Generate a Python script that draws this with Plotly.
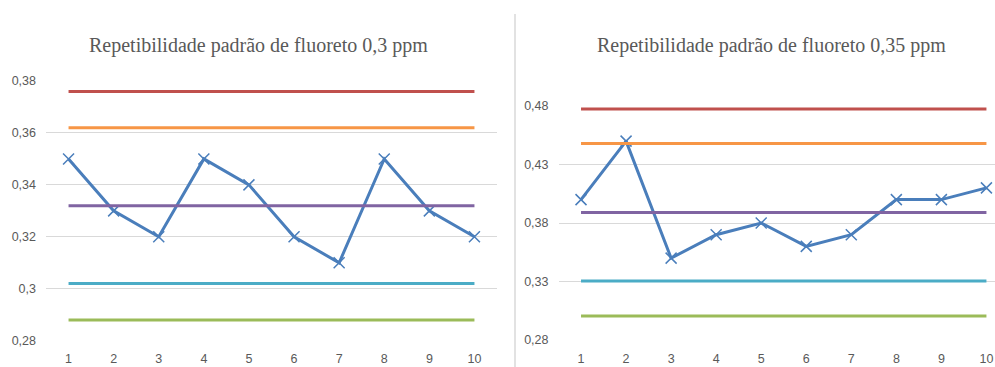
import plotly.graph_objects as go

# ---- data ----
samples = [1, 2, 3, 4, 5, 6, 7, 8, 9, 10]
tick_text = ["1", "2", "3", "4", "5", "6", "7", "8", "9", "10"]

title_left = "Repetibilidade padrão de fluoreto 0,3 ppm"
values_left = [0.35, 0.33, 0.32, 0.35, 0.34, 0.32, 0.31, 0.35, 0.33, 0.32]
lsc_left = 0.376   # limite superior de controle
lsa_left = 0.362   # limite superior de alerta
mean_left = 0.332
lia_left = 0.302   # limite inferior de alerta
lic_left = 0.288   # limite inferior de controle
yticks_left = [0.28, 0.30, 0.32, 0.34, 0.36, 0.38]
ytext_left = ["0,28", "0,3", "0,32", "0,34", "0,36", "0,38"]

title_right = "Repetibilidade padrão de fluoreto 0,35 ppm"
values_right = [0.40, 0.45, 0.35, 0.37, 0.38, 0.36, 0.37, 0.40, 0.40, 0.41]
lsc_right = 0.4775
lsa_right = 0.448
mean_right = 0.389
lia_right = 0.3305
lic_right = 0.3005
yticks_right = [0.28, 0.33, 0.38, 0.43, 0.48]
ytext_right = ["0,28", "0,33", "0,38", "0,43", "0,48"]

# ---- styles ----
BLUE = "#4a7ebb"
LIMIT_COLORS = ["#c0504d", "#f79646", "#8064a2", "#4bacc6", "#9bbb59"]
GRID = "#d9d9d9"
TXT = "#595959"

fig = go.Figure()


def add_chart(values, limits, xa, ya):
    fig.add_trace(go.Scatter(
        x=samples, y=values, mode="lines+markers",
        line=dict(color=BLUE, width=3),
        marker=dict(symbol="x-thin", size=11, line=dict(color=BLUE, width=1.5)),
        xaxis=xa, yaxis=ya, showlegend=False, hoverinfo="skip"))
    for val, col in zip(limits, LIMIT_COLORS):
        fig.add_trace(go.Scatter(
            x=samples, y=[val] * len(samples), mode="lines",
            line=dict(color=col, width=3),
            xaxis=xa, yaxis=ya, showlegend=False, hoverinfo="skip"))


add_chart(values_left, [lsc_left, lsa_left, mean_left, lia_left, lic_left], "x", "y")
add_chart(values_right, [lsc_right, lsa_right, mean_right, lia_right, lic_right], "x2", "y2")

W, H = 995, 367
tick_font = dict(family="Liberation Sans, Arial, sans-serif", size=12.5, color=TXT)

xcommon = dict(tickmode="array", tickvals=samples, ticktext=tick_text,
               showgrid=False, zeroline=False, showline=False, ticks="",
               tickfont=tick_font, ticklabelstandoff=9, fixedrange=True,
               automargin=False)
ycommon = dict(tickmode="array", showgrid=True, gridcolor=GRID, gridwidth=1,
               zeroline=False, showline=False, ticks="", tickfont=tick_font,
               ticklabelstandoff=9, fixedrange=True, automargin=False)

fig.update_layout(
    width=W, height=H,
    margin=dict(l=0, r=0, t=0, b=0, pad=0),
    paper_bgcolor="white", plot_bgcolor="white",
    xaxis=dict(domain=[46 / W, 497 / W], range=[0.5, 10.5], anchor="y", **xcommon),
    yaxis=dict(domain=[(H - 340.7) / H, (H - 81) / H], range=[0.28, 0.38],
               tickvals=yticks_left, ticktext=ytext_left, anchor="x", **ycommon),
    xaxis2=dict(domain=[558.5 / W, 1.0], range=[0.5, 10.19], anchor="y2", **xcommon),
    yaxis2=dict(domain=[(H - 340) / H, (H - 106) / H], range=[0.28, 0.48],
                tickvals=yticks_right, ticktext=ytext_right, anchor="x2", **ycommon),
    annotations=[
        dict(text=title_left, x=258 / W, y=(H - 45) / H, xref="paper", yref="paper",
             xanchor="center", yanchor="middle", showarrow=False,
             font=dict(family="Liberation Serif, Times New Roman, serif", size=20, color=TXT)),
        dict(text=title_right, x=771 / W, y=(H - 45) / H, xref="paper", yref="paper",
             xanchor="center", yanchor="middle", showarrow=False,
             font=dict(family="Liberation Serif, Times New Roman, serif", size=20, color=TXT)),
    ],
    shapes=[
        dict(type="line", xref="paper", yref="paper", x0=515 / W, x1=515 / W,
             y0=0, y1=(H - 14) / H, line=dict(color=GRID, width=1.5)),
    ],
)

fig.write_html("out.html")
